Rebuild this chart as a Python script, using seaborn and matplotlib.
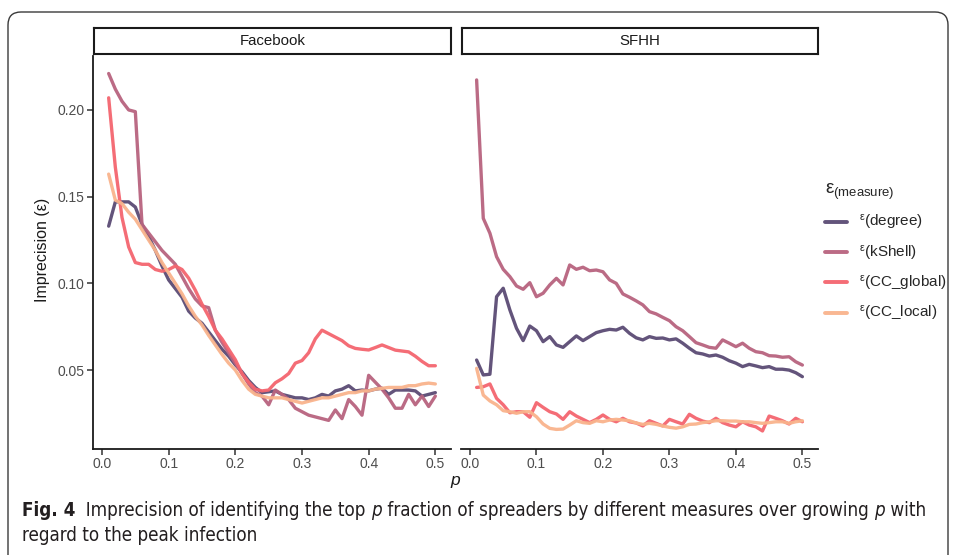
import numpy as np
import pandas as pd
import matplotlib
matplotlib.use("Agg")
import matplotlib.pyplot as plt
from matplotlib.patches import FancyBboxPatch
from matplotlib import font_manager as fm
import seaborn as sns

# ---------------- data ----------------
p = [0.01, 0.02, 0.03, 0.04, 0.05, 0.06, 0.07, 0.08, 0.09, 0.10,
     0.11, 0.12, 0.13, 0.14, 0.15, 0.16, 0.17, 0.18, 0.19, 0.20,
     0.21, 0.22, 0.23, 0.24, 0.25, 0.26, 0.27, 0.28, 0.29, 0.30,
     0.31, 0.32, 0.33, 0.34, 0.35, 0.36, 0.37, 0.38, 0.39, 0.40,
     0.41, 0.42, 0.43, 0.44, 0.45, 0.46, 0.47, 0.48, 0.49, 0.50]

panels = ["Facebook", "SFHH"]
measures = ["degree", "kShell", "CC_global", "CC_local"]

fb_degree = [0.133, 0.147, 0.147, 0.147, 0.144, 0.134, 0.127, 0.119, 0.110, 0.102,
             0.097, 0.092, 0.084, 0.080, 0.077, 0.072, 0.067, 0.062, 0.058, 0.053,
             0.049, 0.044, 0.040, 0.037, 0.0375, 0.038, 0.036, 0.035, 0.034, 0.034,
             0.033, 0.034, 0.036, 0.035, 0.038, 0.039, 0.041, 0.038, 0.0385, 0.038,
             0.039, 0.0395, 0.036, 0.0385, 0.0385, 0.0385, 0.038, 0.035, 0.036, 0.037]
fb_kshell = [0.221, 0.212, 0.205, 0.200, 0.199, 0.134, 0.129, 0.124, 0.119, 0.115,
             0.111, 0.104, 0.097, 0.091, 0.087, 0.086, 0.073, 0.066, 0.060, 0.054,
             0.048, 0.042, 0.037, 0.035, 0.030, 0.0385, 0.036, 0.033, 0.028, 0.026,
             0.024, 0.023, 0.022, 0.021, 0.027, 0.022, 0.033, 0.029, 0.024, 0.047,
             0.043, 0.039, 0.034, 0.028, 0.028, 0.036, 0.030, 0.035, 0.029, 0.035]
fb_ccglobal = [0.207, 0.167, 0.138, 0.121, 0.112, 0.111, 0.111, 0.108, 0.107, 0.108,
               0.110, 0.108, 0.103, 0.096, 0.088, 0.081, 0.073, 0.068, 0.062, 0.056,
               0.048, 0.043, 0.039, 0.038, 0.0385, 0.0427, 0.045, 0.048, 0.054, 0.0555,
               0.060, 0.068, 0.073, 0.071, 0.069, 0.067, 0.064, 0.0625, 0.062, 0.0616,
               0.063, 0.0645, 0.063, 0.0615, 0.061, 0.0605, 0.058, 0.055, 0.0525, 0.0525]
fb_cclocal = [0.163, 0.148, 0.146, 0.141, 0.137, 0.131, 0.125, 0.119, 0.112, 0.106,
              0.100, 0.094, 0.087, 0.081, 0.076, 0.070, 0.0645, 0.059, 0.054, 0.050,
              0.044, 0.039, 0.036, 0.035, 0.034, 0.034, 0.034, 0.033, 0.032, 0.031,
              0.032, 0.033, 0.034, 0.034, 0.035, 0.036, 0.037, 0.037, 0.038, 0.038,
              0.039, 0.0395, 0.040, 0.040, 0.040, 0.041, 0.041, 0.042, 0.0425, 0.042]

sf_degree = [0.0558, 0.0472, 0.0476, 0.0923, 0.0972, 0.0847, 0.0741, 0.067, 0.0754, 0.0727,
             0.0664, 0.0693, 0.0645, 0.0631, 0.0664, 0.0697, 0.067, 0.0693, 0.0716, 0.0727,
             0.0735, 0.0731, 0.0747, 0.0712, 0.0686, 0.0674, 0.0693, 0.0683, 0.0685, 0.0674,
             0.068, 0.0655, 0.0626, 0.060, 0.0593, 0.0581, 0.0587, 0.0574, 0.0554, 0.054,
             0.052, 0.0533, 0.0524, 0.0514, 0.052, 0.0505, 0.0505, 0.050, 0.0485, 0.0462]
sf_kshell = [0.2173, 0.1375, 0.1289, 0.1154, 0.1081, 0.1039, 0.0985, 0.0966, 0.1004, 0.0923,
             0.0943, 0.0991, 0.1029, 0.0991, 0.1106, 0.1081, 0.1093, 0.1073, 0.1077, 0.1067,
             0.102, 0.100, 0.0939, 0.092, 0.0899, 0.0876, 0.0837, 0.0824, 0.0804, 0.0785,
             0.075, 0.0727, 0.0693, 0.0658, 0.0645, 0.0631, 0.0626, 0.0674, 0.0655, 0.0635,
             0.0655, 0.0626, 0.0606, 0.060, 0.0583, 0.0581, 0.0574, 0.0577, 0.0548, 0.0529]
sf_ccglobal = [0.040, 0.0404, 0.042, 0.0337, 0.030, 0.0254, 0.026, 0.026, 0.0228, 0.0312,
               0.0285, 0.026, 0.0247, 0.0216, 0.026, 0.0235, 0.0216, 0.0197, 0.0216, 0.0241,
               0.0216, 0.0202, 0.0222, 0.0202, 0.0195, 0.0178, 0.0208, 0.0193, 0.0178, 0.0216,
               0.0202, 0.0189, 0.0245, 0.0222, 0.0206, 0.0197, 0.0222, 0.0197, 0.0183, 0.0173,
               0.0202, 0.0183, 0.0173, 0.0149, 0.0235, 0.0222, 0.0208, 0.0189, 0.0222, 0.0202]
sf_cclocal = [0.051, 0.0356, 0.0322, 0.030, 0.0266, 0.026, 0.0251, 0.026, 0.026, 0.0231,
              0.0189, 0.0164, 0.0158, 0.016, 0.0183, 0.0208, 0.0197, 0.0193, 0.0208, 0.0202,
              0.0212, 0.0216, 0.0212, 0.0208, 0.0195, 0.0187, 0.0193, 0.0187, 0.0178, 0.017,
              0.0165, 0.0173, 0.0187, 0.0189, 0.0197, 0.0202, 0.0208, 0.0208, 0.0206, 0.0206,
              0.0202, 0.0202, 0.0197, 0.0193, 0.0197, 0.0202, 0.0202, 0.0193, 0.0202, 0.0208]

x_ticks = [0.0, 0.1, 0.2, 0.3, 0.4, 0.5]
x_ticklabels = ["0.0", "0.1", "0.2", "0.3", "0.4", "0.5"]
y_ticks = [0.05, 0.10, 0.15, 0.20]
y_ticklabels = ["0.05", "0.10", "0.15", "0.20"]

series = {
    "Facebook": {"degree": fb_degree, "kShell": fb_kshell, "CC_global": fb_ccglobal, "CC_local": fb_cclocal},
    "SFHH": {"degree": sf_degree, "kShell": sf_kshell, "CC_global": sf_ccglobal, "CC_local": sf_cclocal},
}
rows = []
for pan in panels:
    for m in measures:
        for pi, v in zip(p, series[pan][m]):
            rows.append({"panel": pan, "measure": m, "p": pi, "eps": v})
df = pd.DataFrame(rows)

colors = {"degree": "#5b4b74", "kShell": "#b8637f", "CC_global": "#f4656f", "CC_local": "#f9b38c"}

# ---------------- styling ----------------
sns.set_theme(style="white")
plt.rcParams["font.family"] = ["Liberation Sans", "DejaVu Sans"]
plt.rcParams["mathtext.fontset"] = "custom"
plt.rcParams["mathtext.rm"] = "Liberation Sans"
plt.rcParams["mathtext.it"] = "Liberation Sans:italic"
plt.rcParams["mathtext.default"] = "rm"

W, H = 955, 555
fig = plt.figure(figsize=(W / 100, H / 100), dpi=100)
fig.patch.set_facecolor("white")

def fx(px):
    return px / W

def fy(py):
    return 1 - py / H

# outer rounded frame (in inches via dpi_scale_trans)
frame = FancyBboxPatch((8 / 100, (H - 585) / 100), 940 / 100, (585 - 12) / 100,
                       boxstyle="round,pad=0,rounding_size=0.13",
                       transform=fig.dpi_scale_trans, fill=False,
                       edgecolor="#3a3a3a", linewidth=1.0)
fig.patches.append(frame)

ax_top, ax_bot = 56, 449
xl = (-0.0135, 0.5235)
yl = (0.0045, 0.2311)
panel_x = {"Facebook": (93, 451), "SFHH": (461, 818)}
tick_col = "#4d4d4d"
axes = {}
for i, pan in enumerate(panels):
    x0, x1 = panel_x[pan]
    ax = fig.add_axes([fx(x0), fy(ax_bot), fx(x1 - x0), (ax_bot - ax_top) / H])
    sub = df[df["panel"] == pan]
    sns.lineplot(data=sub, x="p", y="eps", hue="measure", hue_order=measures,
                 palette=colors, linewidth=2.4, ax=ax, legend=(i == 0), alpha=0.95)
    ax.set_xlim(*xl)
    ax.set_ylim(*yl)
    ax.set_xticks(x_ticks)
    ax.set_xticklabels(x_ticklabels)
    ax.set_xlabel("")
    ax.set_ylabel("")
    for s in ["top", "right"]:
        ax.spines[s].set_visible(False)
    ax.spines["bottom"].set_color("#1a1a1a")
    ax.spines["bottom"].set_linewidth(1.3)
    if i == 0:
        ax.spines["left"].set_color("#1a1a1a")
        ax.spines["left"].set_linewidth(1.3)
        ax.set_yticks(y_ticks)
        ax.set_yticklabels(y_ticklabels)
        ax.tick_params(axis="y", length=4, width=1.1, color="#333333",
                       labelsize=10, labelcolor=tick_col, pad=2, left=True)
    else:
        ax.spines["left"].set_visible(False)
        ax.set_yticks([])
    ax.tick_params(axis="x", length=4, width=1.1, color="#333333",
                   labelsize=10, labelcolor=tick_col, pad=2, bottom=True)
    ax.patch.set_alpha(0)
    axes[pan] = ax

    # strip
    sax = fig.add_axes([fx(x0 + 1), fy(54), fx(x1 - x0 - 1), 26 / H])
    sax.set_xticks([])
    sax.set_yticks([])
    for s in sax.spines.values():
        s.set_visible(True)
        s.set_color("#1a1a1a")
        s.set_linewidth(1.5)
    sax.set_facecolor("white")
    sax.text(0.5, 0.5, pan, ha="center", va="center", fontsize=10.8,
             color="#1a1a1a", transform=sax.transAxes)

# legend
handles, _ = axes["Facebook"].get_legend_handles_labels()
axes["Facebook"].get_legend().remove()
leg_labels = ["$^{\\mathrm{ε}}$(" + m + ")" for m in measures]
leg = fig.legend(handles, leg_labels, loc="upper left",
                 bbox_to_anchor=(fx(816), fy(172)), frameon=False,
                 title="$\\mathrm{ε}_{\\mathrm{(measure)}}$",
                 fontsize=11, title_fontsize=13.5, handlelength=1.45,
                 handletextpad=0.75, labelspacing=0.74, borderaxespad=0,
                 borderpad=0.6)
leg._legend_box.align = "left"
for lh in leg.get_lines():
    lh.set_linewidth(2.8)

# axis titles
fig.text(fx(42), fy(250), "Imprecision (ε)", rotation=90, ha="center",
         va="center", fontsize=11.5, color="#1a1a1a")
fig.text(fx(455), fy(481), "p", ha="center", va="center", fontsize=12.5,
         style="italic", color="#1a1a1a")

# caption font: prefer a narrow/condensed face if available
def find_font(keys_any):
    for f in fm.fontManager.ttflist:
        fn = f.fname.replace("-", "").replace("_", "").lower()
        if any(k in fn for k in keys_any):
            return f.fname
    return None

cands = [
    (("liberationsansnarrowregular",), ("liberationsansnarrowbold.",), ("liberationsansnarrowitalic",)),
    (("dejavusanscondensed.ttf",), ("dejavusanscondensedbold.ttf",), ("dejavusanscondensedoblique.ttf",)),
]
reg = bold = ital = None
for r, b, it in cands:
    reg_ = find_font(r)
    if reg_:
        reg, bold, ital = reg_, find_font(b), find_font(it)
        break

def fprops(weight, style, size):
    if reg is not None:
        if weight == "bold" and bold:
            return fm.FontProperties(fname=bold, size=size)
        if style == "italic" and ital:
            return fm.FontProperties(fname=ital, size=size)
        return fm.FontProperties(fname=reg, size=size)
    return fm.FontProperties(family=["Liberation Sans", "DejaVu Sans"], size=size,
                             weight=weight, style=style)

cap_col = "#231f20"
line1 = [("Fig. 4", "bold", "normal"), ("  Imprecision of identifying the top ", "normal", "normal"),
         ("p", "normal", "italic"), (" fraction of spreaders by different measures over growing ", "normal", "normal"),
         ("p", "normal", "italic"), (" with", "normal", "normal")]
line2 = [("regard to the peak infection", "normal", "normal")]

renderer = fig.canvas.get_renderer()

def run_width(txt, weight, style, size):
    fp = fprops(weight, style, size)
    t = fig.text(0, 0, "|" + txt + "|", fontproperties=fp)
    w = t.get_window_extent(renderer).width
    t2 = fig.text(0, 0, "||", fontproperties=fp)
    w2 = t2.get_window_extent(renderer).width
    t.remove()
    t2.remove()
    return w - w2

def place(runs, x_px, y_px, size):
    x = x_px
    for txt, weight, style in runs:
        fig.text(fx(x), fy(y_px), txt, fontproperties=fprops(weight, style, size),
                 color=cap_col, ha="left", va="baseline")
        x += run_width(txt, weight, style, size)
    return x

base = 12.0
total = sum(run_width(t, w, s, base) for t, w, s in line1)
size = base * (928 - 22) / total
place(line1, 22, 516, size)
place(line2, 22, 541, size)

fig.savefig("out.png", dpi=100, facecolor="white")
